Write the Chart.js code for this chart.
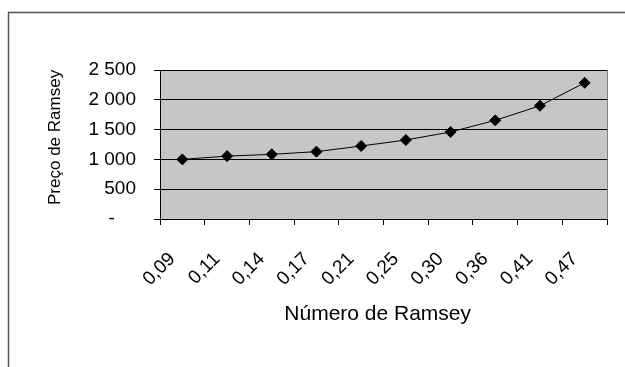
<!DOCTYPE html>
<html>
<head>
<meta charset="utf-8">
<title>Preço de Ramsey</title>
<script src="https://cdn.jsdelivr.net/npm/chart.js@4/dist/chart.umd.min.js"></script>
<style>
  html, body { margin: 0; padding: 0; background: #ffffff; }
  #wrap { width: 625px; height: 367px; position: relative; }
</style>
</head>
<body>
<div id="wrap"><canvas id="c" width="625" height="367"></canvas></div>
<script>
// Número de Ramsey (categorias do eixo horizontal)
const categorias = ['0,09', '0,11', '0,14', '0,17', '0,21', '0,25', '0,30', '0,36', '0,41', '0,47'];
// Preço de Ramsey correspondente a cada categoria
const precos = [1000, 1055, 1085, 1130, 1225, 1325, 1460, 1655, 1900, 2285];
// Escala vertical
const yMin = 0;
const yMax = 2500;
const yPasso = 500;

const FONTE = "'Liberation Sans', Arial, Helvetica, sans-serif";

// Formato contabilístico: separador de milhares com espaço, zero como traço
function formatarPreco(v) {
  if (v === 0) return '-    ';
  return String(v).replace(/\B(?=(\d{3})+(?!\d))/g, ' ');
}

// Moldura exterior e contorno direito da área de desenho
const molduras = {
  id: 'molduras',
  beforeDraw(chart) {
    const ctx = chart.ctx;
    const a = chart.chartArea;
    ctx.save();
    ctx.fillStyle = '#c6c6c6';
    ctx.fillRect(a.left, a.top, a.right - a.left, a.bottom - a.top);
    ctx.strokeStyle = '#555555';
    ctx.lineWidth = 1.5;
    ctx.beginPath();
    ctx.moveTo(8.5, chart.height + 2);
    ctx.lineTo(8.5, 12.5);
    ctx.lineTo(chart.width + 2, 12.5);
    ctx.stroke();
    ctx.restore();
  },
  beforeDatasetsDraw(chart) {
    const ctx = chart.ctx;
    const a = chart.chartArea;
    ctx.save();
    ctx.strokeStyle = '#808080';
    ctx.lineWidth = 1;
    ctx.beginPath();
    ctx.moveTo(Math.round(a.right) + 0.5, a.top);
    ctx.lineTo(Math.round(a.right) + 0.5, a.bottom);
    ctx.stroke();
    ctx.restore();
  }
};

new Chart(document.getElementById('c'), {
  type: 'line',
  data: {
    labels: categorias,
    datasets: [{
      data: precos,
      borderColor: '#000000',
      borderWidth: 1,
      backgroundColor: '#000000',
      pointStyle: 'rectRot',
      pointRadius: 5.5,
      pointBorderWidth: 1,
      pointBorderColor: '#000000',
      pointBackgroundColor: '#000000',
      tension: 0,
      fill: false
    }]
  },
  options: {
    responsive: false,
    animation: false,
    events: [],
    layout: { padding: { left: 0, top: 70, right: 18, bottom: 0 } },
    plugins: {
      legend: { display: false },
      tooltip: { enabled: false }
    },
    scales: {
      x: {
        type: 'category',
        offset: true,
        grid: {
          offset: true,
          drawOnChartArea: false,
          drawTicks: true,
          tickLength: 6,
          color: '#000000',
          lineWidth: 1
        },
        border: { display: true, color: '#000000', width: 1 },
        ticks: {
          color: '#000000',
          font: { family: FONTE, size: 19 },
          minRotation: 45,
          maxRotation: 45,
          autoSkip: false,
          padding: 23,
          labelOffset: -10
        },
        title: {
          display: true,
          text: 'Número de Ramsey  ',
          color: '#000000',
          font: { family: FONTE, size: 21 },
          padding: { top: 0, bottom: 40 }
        },
        afterFit(scale) { scale.height = 148; }
      },
      y: {
        min: yMin,
        max: yMax,
        grid: {
          color: '#000000',
          lineWidth: 1,
          drawTicks: true,
          tickLength: 6
        },
        border: { display: true, color: '#000000', width: 1 },
        ticks: {
          stepSize: yPasso,
          color: '#000000',
          font: { family: FONTE, size: 19 },
          padding: 18,
          callback: (v) => formatarPreco(v)
        },
        title: {
          display: true,
          text: '   Preço de Ramsey',
          color: '#000000',
          font: { family: FONTE, size: 17 },
          padding: { top: 45, bottom: 0 }
        },
        afterFit(scale) { scale.width = 160; }
      }
    }
  },
  plugins: [molduras]
});
</script>
</body>
</html>
